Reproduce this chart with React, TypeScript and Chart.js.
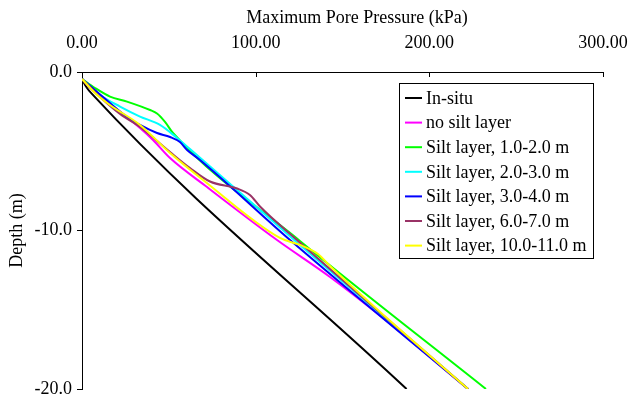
import React, { useEffect, useRef } from "react";
import { Chart, registerables } from "chart.js";

Chart.register(...registerables);

const xTitle = "Maximum Pore Pressure (kPa)";
const yTitle = "Depth (m)";
const xTickValues = [0, 100, 200, 300];
const yTickValues = [0, -10, -20];

const seriesLabels = [
  "In-situ",
  "no silt layer",
  "Silt layer, 1.0-2.0 m",
  "Silt layer, 2.0-3.0 m",
  "Silt layer, 3.0-4.0 m",
  "Silt layer, 6.0-7.0 m",
  "Silt layer, 10.0-11.0 m",
];
const seriesColors = ["#000000", "#FF00FF", "#00FF00", "#00FFFF", "#0000FF", "#993366", "#FFFF00"];

// pressure (kPa) and depth (m)
const inSituP = [0, 1.2, 2.9, 5.2, 186.9];
const inSituD = [-0.38, -0.69, -1.01, -1.32, -20];

const noSiltP = [0, 5.8, 13.2, 33.4, 40.9, 50.7, 72.0, 112.3, 142.8, 173.3, 222.3];
const noSiltD = [-0.44, -1.14, -1.77, -3.53, -4.29, -5.43, -7.26, -10.6, -12.93, -15.52, -20];

const silt1P = [0, 7.5, 16.1, 25.9, 39.2, 43.2, 47.8, 52.4, 125.5, 232.6];
const silt1D = [-0.44, -1.01, -1.55, -1.87, -2.4, -2.62, -3.15, -3.85, -10.66, -20];

const silt2P = [0, 10.4, 21.9, 33.4, 44.9, 54.7, 62.2, 125.5, 222.3];
const silt2D = [-0.44, -1.45, -2.18, -2.81, -3.34, -4.16, -4.86, -10.91, -20];

const silt3P = [0, 12.1, 25.9, 33.4, 43.2, 50.7, 56.4, 60.5, 67.9, 119.8, 222.3];
const silt3D = [-0.44, -1.58, -2.84, -3.34, -3.85, -4.1, -4.42, -4.92, -5.55, -10.6, -20];

const silt6P = [0, 10.4, 21.9, 33.4, 50.7, 62.2, 73.7, 89.3, 96.7, 102.5, 123.8, 222.3];
const silt6D = [-0.44, -1.58, -2.65, -3.47, -5.05, -6.06, -6.91, -7.35, -7.76, -8.49, -10.6, -20];

const silt10P = [0, 7.5, 16.1, 33.4, 50.7, 69.7, 114.0, 125.5, 135.9, 142.8, 175.6, 222.3];
const silt10D = [-0.44, -1.32, -2.08, -3.34, -5.11, -6.81, -10.47, -10.91, -11.48, -12.24, -15.52, -20];

const seriesP = [inSituP, noSiltP, silt1P, silt2P, silt3P, silt6P, silt10P];
const seriesD = [inSituD, noSiltD, silt1D, silt2D, silt3D, silt6D, silt10D];

const FONT_FAMILY = '"Liberation Serif", "Times New Roman", serif';

const boxLegend = {
  id: "boxLegend",
  afterDraw(chart: any) {
    const ctx = chart.ctx as CanvasRenderingContext2D;
    const left = 399, top = 83, right = 593, bottom = 258;
    ctx.save();
    ctx.fillStyle = "#ffffff";
    ctx.fillRect(left, top, right - left, bottom - top);
    ctx.strokeStyle = "#000000";
    ctx.lineWidth = 1;
    ctx.strokeRect(left + 0.5, top + 0.5, right - left, bottom - top);
    ctx.font = `18px ${FONT_FAMILY}`;
    ctx.textBaseline = "middle";
    ctx.textAlign = "left";
    chart.data.datasets.forEach((ds: any, i: number) => {
      const y = 98 + i * 24.6;
      ctx.strokeStyle = ds.borderColor;
      ctx.lineWidth = 2;
      ctx.beginPath();
      ctx.moveTo(405, y);
      ctx.lineTo(422, y);
      ctx.stroke();
      ctx.fillStyle = "#000000";
      ctx.fillText(ds.label, 426, y + 1);
    });
    ctx.restore();
  },
};

const axisDecor = {
  id: "axisDecor",
  afterDraw(chart: any) {
    const ctx = chart.ctx as CanvasRenderingContext2D;
    const xs = chart.scales.x;
    const top = chart.chartArea.top;
    ctx.save();
    ctx.strokeStyle = "#000000";
    ctx.lineWidth = 1;
    xTickValues.forEach((v) => {
      const px = Math.round(xs.getPixelForValue(v)) + 0.5;
      ctx.beginPath();
      ctx.moveTo(px, top);
      ctx.lineTo(px, top + 5);
      ctx.stroke();
    });
    ctx.fillStyle = "#000000";
    ctx.font = `18px ${FONT_FAMILY}`;
    ctx.textAlign = "center";
    ctx.textBaseline = "middle";
    ctx.fillText(xTitle, 357, 18);
    ctx.restore();
  },
};

export default function App() {
  const ref = useRef<HTMLCanvasElement | null>(null);
  useEffect(() => {
    if (!ref.current) return;
    const datasets = seriesLabels.map((label, i) => ({
      label,
      data: seriesP[i].map((p, j) => ({ x: p, y: seriesD[i][j] })),
      borderColor: seriesColors[i],
      backgroundColor: seriesColors[i],
      borderWidth: 2,
      pointRadius: 0,
      showLine: true,
      cubicInterpolationMode: "monotone" as const,
      order: seriesLabels.length - i,
    }));
    const chart = new Chart(ref.current, {
      type: "scatter",
      data: { datasets },
      options: {
        animation: false,
        responsive: false,
        maintainAspectRatio: false,
        layout: { padding: { left: 0, top: 0, right: 27, bottom: 11 } },
        plugins: { legend: { display: false }, tooltip: { enabled: false } },
        scales: {
          x: {
            type: "linear",
            position: "top",
            min: 0,
            max: 300,
            afterBuildTicks: (s: any) => {
              s.ticks = xTickValues.map((v) => ({ value: v }));
            },
            afterFit: (s: any) => {
              s.height = 72;
              s.paddingLeft = 0;
              s.paddingRight = 0;
            },
            ticks: {
              color: "#000",
              font: { family: FONT_FAMILY, size: 18 },
              padding: 10,
              maxRotation: 0,
              callback: (v: any) => Number(v).toFixed(2),
            },
            grid: { display: false },
            border: { display: true, color: "#000", width: 1 },
            title: { display: false, text: xTitle },
          },
          y: {
            type: "linear",
            min: -20,
            max: 0,
            afterBuildTicks: (s: any) => {
              s.ticks = yTickValues.map((v) => ({ value: v }));
            },
            afterFit: (s: any) => {
              s.width = 82;
              s.paddingTop = 0;
              s.paddingBottom = 0;
            },
            ticks: {
              color: "#000",
              font: { family: FONT_FAMILY, size: 18 },
              padding: 5,
              callback: (v: any) => Number(v).toFixed(1),
            },
            grid: { display: true, drawOnChartArea: false, drawTicks: true, tickLength: 5, color: "#000" },
            border: { display: true, color: "#000", width: 1 },
            title: {
              display: true,
              text: yTitle,
              color: "#000",
              font: { family: FONT_FAMILY, size: 18 },
              padding: { top: 6, bottom: 0 },
            },
          },
        },
      },
      plugins: [axisDecor, boxLegend],
    });
    return () => chart.destroy();
  }, []);
  return (
    <div style={{ position: "fixed", left: 0, top: 0, width: 630, height: 400, background: "#fff" }}>
      <canvas ref={ref} width={630} height={400} style={{ display: "block" }} />
    </div>
  );
}
